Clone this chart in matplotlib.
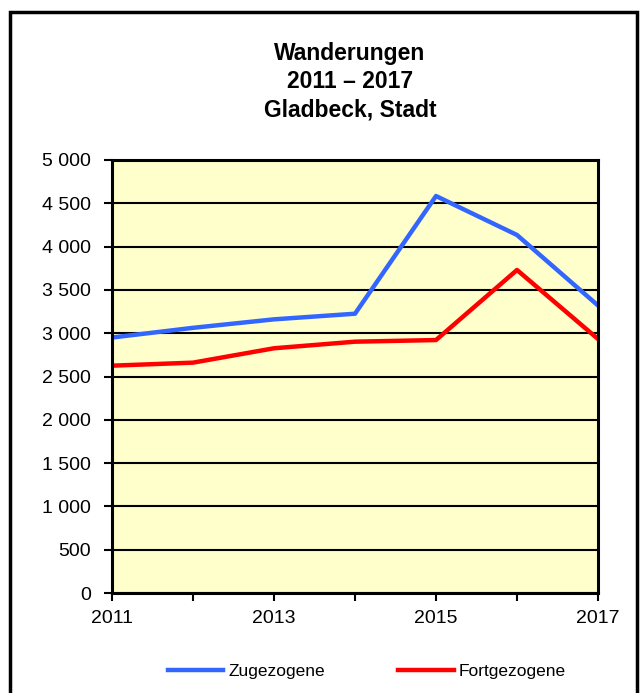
import matplotlib.pyplot as plt
from matplotlib.patches import Rectangle
from matplotlib.ticker import FuncFormatter

plt.rcParams['font.family'] = ['Liberation Sans', 'DejaVu Sans']

years = [2011, 2012, 2013, 2014, 2015, 2016, 2017]
zugezogene = [2950, 3062, 3160, 3225, 4584, 4134, 3320]
fortgezogene = [2625, 2660, 2826, 2902, 2921, 3730, 2933]

fig = plt.figure(figsize=(6.4, 6.93), dpi=100)
ax = fig.add_axes([112 / 640, 100 / 693, 486 / 640, 433 / 693])
ax.set_facecolor('#FFFFCC')

ax.plot(years, zugezogene, color='#3366FF', lw=3.2, label='Zugezogene')
ax.plot(years, fortgezogene, color='#FF0000', lw=3.2, label='Fortgezogene')

ax.set_xlim(2011, 2017)
ax.set_ylim(0, 5000)
ax.set_yticks(range(0, 5001, 500))
ax.yaxis.set_major_formatter(FuncFormatter(lambda v, p: f'{int(v):,}'.replace(',', ' ')))
ax.set_xticks(years)
ax.set_xticklabels([str(y) if y % 2 == 1 else '' for y in years])
ax.grid(axis='y', color='black', lw=1.5)
ax.set_axisbelow(True)
for s in ax.spines.values():
    s.set_linewidth(2.2)
ax.tick_params(axis='both', direction='out', length=6, width=1.5, labelsize=14)
ax.tick_params(axis='y', pad=9)
ax.tick_params(axis='x', pad=6)

fig.text(350 / 640, 0.882, 'Wanderungen\n2011 \u2013 2017\nGladbeck, Stadt', ha='center', va='center',
         fontsize=16.5, fontweight='bold', linespacing=1.3)

ax.legend(loc='center', bbox_to_anchor=(367 / 640, 0.0317), bbox_transform=fig.transFigure,
          ncol=2, frameon=False, fontsize=12.5,
          handlelength=3.2, handletextpad=0.3, columnspacing=4.2)

fig.add_artist(Rectangle((10 / 640, -0.05), 627 / 640, 1.05 - 12 / 693, transform=fig.transFigure,
                         fill=False, edgecolor='black', lw=2.5, clip_on=False))

fig.savefig('out.png', dpi=100)
